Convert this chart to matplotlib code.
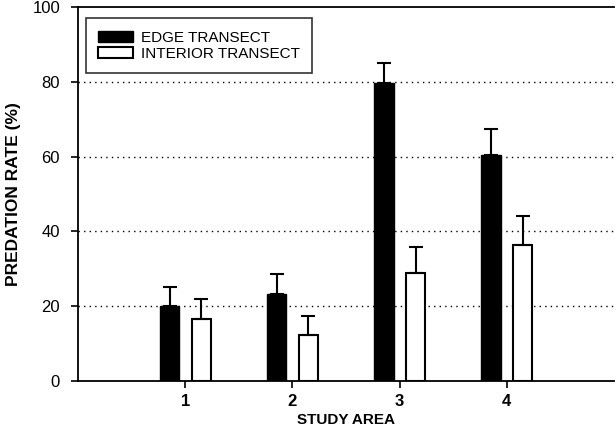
import matplotlib.pyplot as plt
import numpy as np

plt.rcParams['font.family'] = ['Liberation Sans', 'DejaVu Sans']

# === DADOS ===
areas = ['1', '2', '3', '4']
edge = [20, 23.3, 79.8, 60.3]
edge_err = [5.1, 5.3, 5.2, 7.2]
interior = [16.6, 12.3, 29.0, 36.3]
interior_err = [5.4, 5.1, 6.8, 7.8]

fig = plt.figure(figsize=(6.15, 4.36), dpi=100)
ax = fig.add_axes([0.127, 0.126, 0.871, 0.858])

x = np.arange(1, len(areas) + 1)
largura = 0.18

ax.bar(x - 0.145, edge, width=largura, color='black', edgecolor='black',
       yerr=[np.zeros(4), edge_err], error_kw=dict(ecolor='black', elinewidth=1.5, capsize=5, capthick=1.5),
       label='EDGE TRANSECT', zorder=3)
ax.bar(x + 0.15, interior, width=largura, color='white', edgecolor='black', linewidth=1.5,
       yerr=[np.zeros(4), interior_err], error_kw=dict(ecolor='black', elinewidth=1.5, capsize=5, capthick=1.5),
       label='INTERIOR TRANSECT', zorder=3)

ax.set_xlim(0, 5)
ax.set_ylim(0, 100)
ax.set_xticks(x)
ax.set_xticklabels(areas, fontsize=12, fontweight='bold')
ax.set_yticks([0, 20, 40, 60, 80, 100])
ax.tick_params(axis='y', labelsize=12, direction='out', length=5, width=1.2, pad=8)
ax.tick_params(axis='x', direction='out', length=5, width=1.2, pad=4)

for g in [20, 40, 60, 80]:
    ax.axhline(g, color='black', linestyle=(0, (1, 3)), linewidth=1, zorder=1)

for s in ax.spines.values():
    s.set_linewidth(1.3)
ax.spines['right'].set_visible(False)

ax.set_xlabel('STUDY AREA', fontsize=11, fontweight='bold', labelpad=3)
ax.set_ylabel('PREDATION RATE (%)', fontsize=12.5, fontweight='bold', labelpad=8)

leg = ax.legend(loc='upper left', bbox_to_anchor=(0.0, 0.99), fontsize=11, frameon=True,
                fancybox=False, edgecolor='black', handlelength=2.3, borderpad=0.8,
                labelspacing=0.15, handletextpad=0.5)
leg.get_frame().set_linewidth(1.2)

plt.savefig('out.png', dpi=100)
